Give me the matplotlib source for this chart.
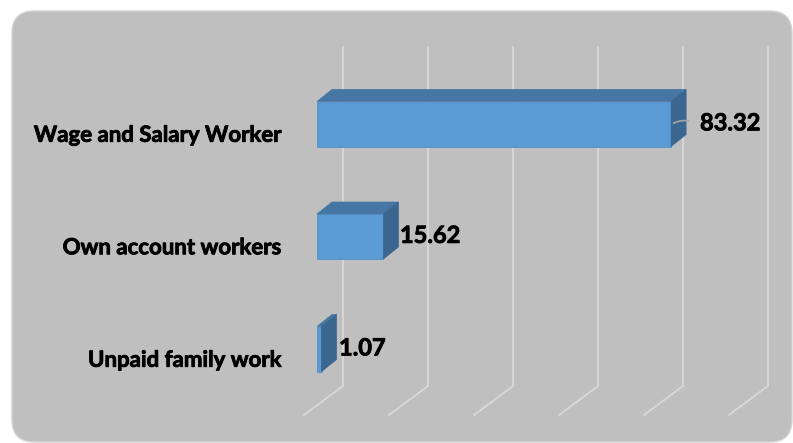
import matplotlib
matplotlib.use("Agg")
import matplotlib.pyplot as plt
import matplotlib.patheffects as pe
from matplotlib.patches import FancyBboxPatch, Polygon

categories = ["Wage and Salary Worker", "Own account workers", "Unpaid family work"]
values = [83.32, 15.62, 1.07]
value_labels = ["83.32", "15.62", "1.07"]
x_ticks = [0, 20, 40, 60, 80, 100]

W, H = 793, 443
fig = plt.figure(figsize=(W / 100, H / 100), dpi=100)
fig.patch.set_facecolor("white")

# rounded grey chart panel
panel = FancyBboxPatch((12 / W, 1 / H), (W - 13) / W, (H - 12) / H,
                       boxstyle="round,pad=0,rounding_size=0.028",
                       transform=fig.transFigure, facecolor="#BFBFBF",
                       edgecolor="#D4D4D4", linewidth=1.0, mutation_aspect=W / H,
                       zorder=-5)
fig.patches.append(panel)

# plot area: x in value units, y in category units (top to bottom)
left_px, right_px = 317, 742
top_px, bottom_px = 67.75, 405.25
ax = fig.add_axes([left_px / W, (H - bottom_px) / H,
                   (right_px - left_px) / W, (bottom_px - top_px) / H])
ax.set_zorder(2)
ax.set_xlim(0, 100)
ax.set_ylim(2.5, -0.5)
ax.axis("off")
ax.patch.set_alpha(0)

px_x = 100 / (right_px - left_px)      # value units per pixel
px_y = 3 / (bottom_px - top_px)        # category units per pixel

# wall / floor gridlines
wall_dx, wall_top, wall_bot = 26 * px_x, (47 - top_px) * px_y - 0.5, (386 - top_px) * px_y - 0.5
floor_dx, floor_y = -13 * px_x, (415 - top_px) * px_y - 0.5
for v in x_ticks:
    ax.plot([v + wall_dx, v + wall_dx, v + floor_dx],
            [wall_top, wall_bot, floor_y],
            color="#D9D9D9", linewidth=1.3, clip_on=False, zorder=1,
            solid_joinstyle="miter")

# 3D bars
bar_h = 0.4
dx, dy = 15 * px_x, -12 * px_y
front_c, top_c, side_c = "#5B9BD5", "#4676A4", "#3A6690"
for i, v in enumerate(values):
    y0, y1 = i - bar_h / 2, i + bar_h / 2
    ax.barh(i, v, height=bar_h, color=front_c, edgecolor="#5590C8",
            linewidth=0.6, zorder=3, clip_on=False)
    ax.add_patch(Polygon([(0, y0), (dx, y0 + dy), (v + dx, y0 + dy), (v, y0)],
                         closed=True, facecolor=top_c, edgecolor=top_c,
                         linewidth=0.5, zorder=3, clip_on=False))
    ax.add_patch(Polygon([(v, y0), (v + dx, y0 + dy), (v + dx, y1 + dy), (v, y1)],
                         closed=True, facecolor=side_c, edgecolor=side_c,
                         linewidth=0.5, zorder=3, clip_on=False))

heavy = [pe.withStroke(linewidth=0.6, foreground="black")]

# category labels
for i, name in enumerate(categories):
    ax.text(-35 * px_x, i + 0.1, name, ha="right", va="center",
            fontsize=16, fontweight="bold", family="Lato", color="black",
            clip_on=False, path_effects=heavy)

# value labels
label_gap = [6.8, 3.9, 4.1]
for i, (v, lab) in enumerate(zip(values, value_labels)):
    ax.text(v + label_gap[i], i - 0.01, lab, ha="left", va="center",
            fontsize=17, fontweight="bold", family="Lato", color="black",
            clip_on=False, zorder=4, path_effects=heavy)

# leader line for the largest bar
ax.annotate("", xy=(values[0], 0.005), xytext=(values[0] + 20 * px_x, -0.025),
            arrowprops=dict(arrowstyle="-", color="#A6A6A6", linewidth=1.2,
                            connectionstyle="arc3,rad=0.2"),
            zorder=4, annotation_clip=False)

fig.savefig("out.png", dpi=100)
